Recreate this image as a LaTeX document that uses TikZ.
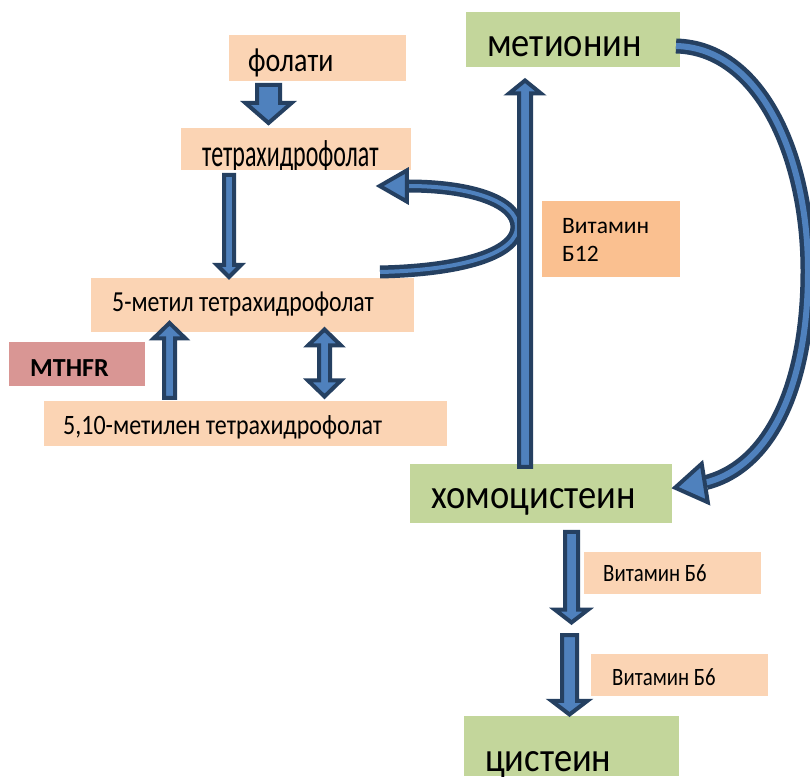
\documentclass[tikz,border=0pt]{standalone}
\usepackage{fontspec}
\setmainfont{Carlito}
\usetikzlibrary{calc}
\definecolor{peach}{HTML}{FBD4B4}
\definecolor{peachd}{HTML}{FAC090}
\definecolor{olive}{HTML}{C3D69B}
\definecolor{rose}{HTML}{D99694}
\definecolor{ablue}{HTML}{4F81BD}
\definecolor{adark}{HTML}{254061}
\newcommand\fsz[1]{\fontsize{#1}{#1}\selectfont}
\newcommand\vs[2]{\scalebox{1}[#1]{#2}}
% vertical block arrow: start, tip, shaft half width, head half width, head length
\newcommand\varrow[5]{\path[blk] let \p1=(#1), \p2=(#2), \n1={(\y2>\y1)?1:-1} in
  (\x1-#3,\y1) -- (\x1-#3,\y2-\n1*#5) -- (\x1-#4,\y2-\n1*#5) -- (\x1,\y2) --
  (\x1+#4,\y2-\n1*#5) -- (\x1+#3,\y2-\n1*#5) -- (\x1+#3,\y1) -- cycle;}
% double-headed vertical block arrow: top tip, bottom tip, shaft hw, head hw, head len
\newcommand\dblarrow[5]{\path[blk] let \p1=(#1), \p2=(#2) in
  (\x1,\y1) -- (\x1-#4,\y1-#5) -- (\x1-#3,\y1-#5) -- (\x1-#3,\y2+#5) -- (\x1-#4,\y2+#5) --
  (\x1,\y2) -- (\x1+#4,\y2+#5) -- (\x1+#3,\y2+#5) -- (\x1+#3,\y1-#5) -- (\x1+#4,\y1-#5) -- cycle;}
% arrow head: base centre, angle, half width, length
\newcommand\headat[4]{\path[blk,shift={#1},rotate=#2] (0,-#3) -- (#4,0) -- (0,#3) -- cycle;}
\tikzset{
  boxnode/.style={draw=none, inner sep=0pt, anchor=south west},
  lbl/.style={anchor=base west, inner sep=0pt, text=black},
  blk/.style={fill=ablue, draw=adark, line width=4pt, line join=miter},
  curv/.style={draw=adark, line width=4.5pt, double=ablue},
}
\begin{document}
\begin{tikzpicture}[x=1pt,y=1pt]
\useasboundingbox[fill=white] (0,0) rectangle (810,776);
% boxes
\node[boxnode, fill=peach, minimum width=177pt, minimum height=46pt] (folati) at (229,695) {};
\node[boxnode, fill=peach, minimum width=230pt, minimum height=42pt] (tetra) at (181,606) {};
\node[boxnode, fill=peach, minimum width=323pt, minimum height=54pt] (metil) at (91,444) {};
\node[boxnode, fill=rose, minimum width=136pt, minimum height=44pt] (mthfr) at (9,390) {};
\node[boxnode, fill=peach, minimum width=403pt, minimum height=45pt] (metilen) at (44,330) {};
\node[boxnode, fill=olive, minimum width=214pt, minimum height=55pt] (metionin) at (466,709) {};
\node[boxnode, fill=peachd, minimum width=138pt, minimum height=76pt] (b12) at (542,499) {};
\node[boxnode, fill=olive, minimum width=262pt, minimum height=59pt] (homo) at (410,253) {};
\node[boxnode, fill=peach, minimum width=177pt, minimum height=42pt] (b6a) at (584,182) {};
\node[boxnode, fill=peach, minimum width=177pt, minimum height=42pt] (b6b) at (591,80) {};
\node[boxnode, fill=olive, minimum width=215pt, minimum height=60pt] (cistein) at (464,0) {};
% texts
\node[lbl, font=\fsz{28}] (folatiT) at (248,704) {\vs{1.2}{фолати}};
\begin{scope}
  \clip (181,606) rectangle (411,648);
  \node[lbl, font=\fsz{24}] (tetraT) at (202,609) {\vs{1.6}{тетрахидрофолат}};
\end{scope}
\node[lbl, font=\fsz{23.8}] (metilT) at (112,464) {\vs{1.22}{5-метил тетрахидрофолат}};
\node[lbl, font=\bfseries\fsz{26}] (mthfrT) at (30,399) {MTHFR};
\node[lbl, font=\fsz{24}] (metilenT) at (63,341) {\vs{1.17}{5,10-метилен тетрахидрофолат}};
\node[lbl, font=\fsz{36.5}] (metioninT) at (487,719) {\vs{1.13}{метионин}};
\node[lbl, font=\fsz{23.5}] (b12T) at (562,542) {Витамин};
\node[lbl, font=\fsz{23.5}] (b12Tb) at (562,514) {Б12};
\node[lbl, font=\fsz{36.5}] (homoT) at (431,267) {\vs{1.13}{хомоцистеин}};
\node[lbl, font=\fsz{20.8}] (b6aT) at (603,194) {\vs{1.2}{Витамин Б6}};
\node[lbl, font=\fsz{20.8}] (b6bT) at (612,91) {\vs{1.2}{Витамин Б6}};
\node[lbl, font=\fsz{36.5}] (cisteinT) at (485,5) {\vs{1.13}{цистеин}};
% straight block arrows
\coordinate (fa1) at (268.5,691); \coordinate (fa2) at (268.5,653);
\varrow{fa1}{fa2}{11.5pt}{23pt}{20pt}
\coordinate (ta1) at (229,601); \coordinate (ta2) at (229,499);
\varrow{ta1}{ta2}{5pt}{12pt}{12pt}
\coordinate (ua1) at (169.5,378); \coordinate (ua2) at (169.5,453);
\varrow{ua1}{ua2}{5.5pt}{16pt}{15.5pt}
\coordinate (da1) at (324.5,446.5); \coordinate (da2) at (324.5,379.5);
\dblarrow{da1}{da2}{5.5pt}{16.5pt}{16pt}
% small curved arrow (5-methyl THF -> THF)
\coordinate (ca1) at (380,504); \coordinate (ca2) at (408,590);
\draw[curv, double distance=4pt] (ca1) .. controls (470,506) and (517,525) .. (517,549)
  .. controls (517,575) and (470,590) .. (ca2);
\headat{(406.75,590)}{180}{15.5}{27}
% long vertical arrow homocysteine -> methionine
\coordinate (va1) at (525,309); \coordinate (va2) at (525,695.5);
\varrow{va1}{va2}{6pt}{16pt}{13pt}
% big curved arrow methionine -> homocysteine
\coordinate (ba1) at (676,730); \coordinate (ba2) at (706,293.5);
\draw[curv, double distance=6pt] (ba1) .. controls (760,728) and (808,620) .. (808,505)
  .. controls (808,390) and (770,310) .. (ba2);
\headat{(704.75,293)}{189}{19.5}{30}
% homocysteine -> cysteine
\coordinate (b1a) at (571.5,244); \coordinate (b1b) at (571.5,153.5);
\varrow{b1a}{b1b}{6.5pt}{16.5pt}{12.75pt}
\coordinate (b2a) at (569.5,141); \coordinate (b2b) at (569.5,61.5);
\varrow{b2a}{b2b}{7.5pt}{18pt}{13.75pt}
\end{tikzpicture}
\end{document}
